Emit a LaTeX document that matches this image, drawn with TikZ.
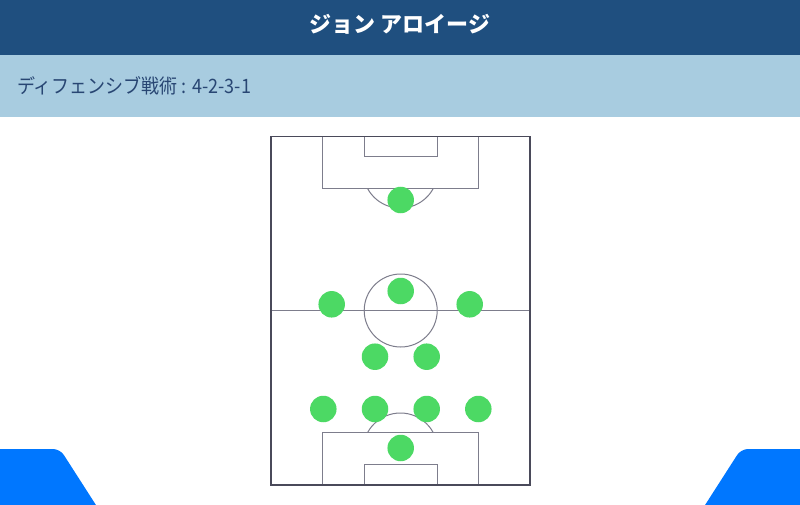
\documentclass[tikz,border=0pt]{standalone}
\usepackage{fontspec}
\newfontfamily\cjk{Noto Sans CJK JP}
\definecolor{hdrdark}{RGB}{31,79,127}
\definecolor{hdrlight}{RGB}{168,204,224}
\definecolor{subtxt}{RGB}{40,70,115}
\definecolor{pitchout}{RGB}{74,74,90}
\definecolor{pitchin}{RGB}{125,125,140}
\definecolor{player}{RGB}{76,217,100}
\definecolor{cornerblue}{RGB}{0,119,255}
\tikzset{
  outerline/.style={draw=pitchout, line width=1.5pt},
  innerline/.style={draw=pitchin, line width=1pt},
  playerdot/.style={circle, fill=player, minimum size=26.5pt, inner sep=0pt},
}
\begin{document}
\begin{tikzpicture}[x=1pt,y=-1pt]
\useasboundingbox (0,0) rectangle (800,505);
\fill[white] (0,0) rectangle (800,505);
% header
\fill[hdrdark] (0,0) rectangle (800,55);
\fill[hdrlight] (0,55) rectangle (800,117);
\node[text=white, font=\cjk\bfseries\fontsize{22}{24}\selectfont] (title) at (400,24) {ジョン アロイージ};
\node[anchor=west, text=subtxt, font=\cjk\fontsize{18}{22}\selectfont, inner sep=0pt, yscale=1.1] (subtitle) at (17,86) {ディフェンシブ戦術 : 4-2-3-1};
% corners
\begin{scope}
\clip (0,0) rectangle (800,505);
\fill[cornerblue] (-20,530) -- (-20,449) [rounded corners=7pt] -- (60,449) [sharp corners] -- (112,530) -- cycle;
\fill[cornerblue] (820,530) -- (820,449) [rounded corners=7pt] -- (741,449) [sharp corners] -- (689,530) -- cycle;
\end{scope}
% pitch inner lines
\draw[innerline] (271,310.5) -- (530,310.5);
\draw[innerline] (400.7,310.5) circle (36.5);
\draw[innerline] (322.7,136.5) -- (322.7,189) -- (478,189) -- (478,136.5);
\draw[innerline] (364,136.5) -- (364,157) -- (437,157) -- (437,136.5);
\draw[innerline] (322.7,485) -- (322.7,432.3) -- (478,432.3) -- (478,485);
\draw[innerline] (364,485) -- (364,464) -- (437,464) -- (437,485);
\begin{scope}
\clip (271,189) rectangle (530,300);
\draw[innerline] (400.4,170.8) circle (37.3);
\end{scope}
\begin{scope}
\clip (271,320) rectangle (530,432.3);
\draw[innerline] (400.4,450.3) circle (37.3);
\end{scope}
\draw[outerline] (271,136.5) rectangle (530,485);
% players
\node[playerdot] (gk1) at (400.7,200) {};
\node[playerdot] (m1) at (331.7,304.3) {};
\node[playerdot] (m2) at (400.7,291) {};
\node[playerdot] (m3) at (469.7,304.3) {};
\node[playerdot] (d1) at (375,356.7) {};
\node[playerdot] (d2) at (426.7,356.7) {};
\node[playerdot] (b1) at (323.3,409) {};
\node[playerdot] (b2) at (375,409) {};
\node[playerdot] (b3) at (426.7,409) {};
\node[playerdot] (b4) at (478.3,409) {};
\node[playerdot] (gk2) at (400.7,448) {};
\end{tikzpicture}
\end{document}
